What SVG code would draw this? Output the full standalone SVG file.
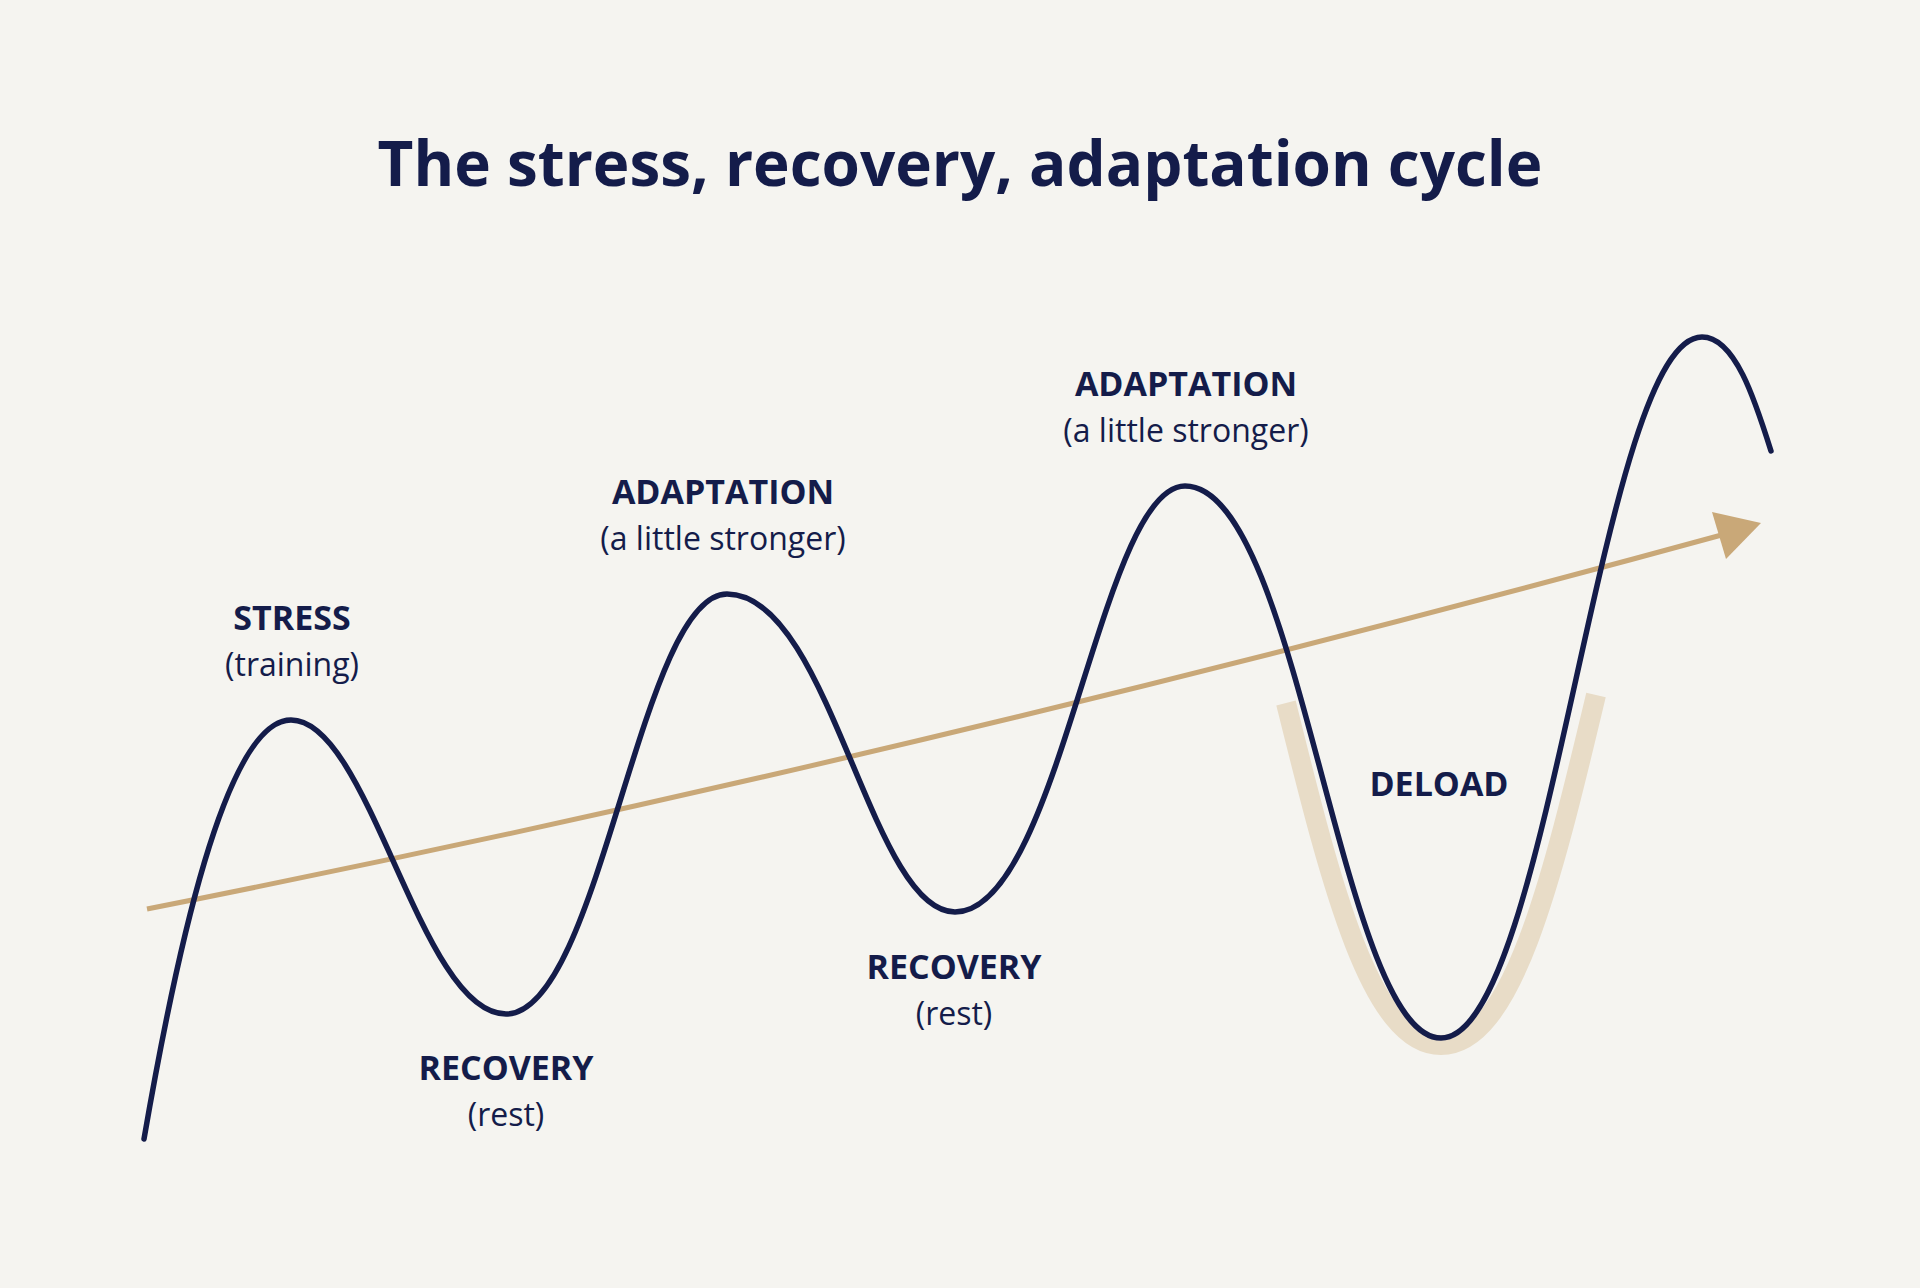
<svg xmlns="http://www.w3.org/2000/svg" width="1920" height="1288" viewBox="0 0 1920 1288">
<style>
.t{font-family:"Open Sans","Liberation Sans",sans-serif;fill:#141c4a;text-anchor:middle}
.b{font-weight:bold;font-size:34px}
.s{font-size:32px}
</style>
<rect width="1920" height="1288" fill="#f5f4f0"/>
<text class="t" x="960" y="186" font-size="62" font-weight="bold">The stress, recovery, adaptation cycle</text>
<g id="deload-band">
<path d="M1286,703 C1330,880 1370,1045 1441,1045 C1512,1045 1552,880 1596,695" fill="none" stroke="#e8dcc7" stroke-width="20"/>
</g>
<g id="connectors">
<path id="trend" d="M147,909 Q900,760 1740,530" fill="none" stroke="#c9a878" stroke-width="5"/>
<path d="M1761,523 L1712,512 L1726,559 Z" fill="#c9a878"/>
</g>
<g id="wave">
<path d="M144,1139 C175,960 225,720 291,720 C370,720 420,1014 506,1014 C600,1014 640,594 727,594 C830,594 870,912 955,912 C1060,912 1100,486 1185,486 C1300,486 1340,1038 1441,1038 C1550,1038 1600,337 1702,337 C1735,337 1755,400 1771,451" fill="none" stroke="#141c4a" stroke-width="5.5" stroke-linecap="round"/>
</g>
<g id="stress"><text class="t b" x="292" y="630">STRESS</text><text class="t s" x="292" y="676">(training)</text></g>
<g id="recovery1"><text class="t b" x="506" y="1080">RECOVERY</text><text class="t s" x="506" y="1126">(rest)</text></g>
<g id="adaptation1"><text class="t b" x="723" y="504">ADAPTATION</text><text class="t s" x="723" y="550">(a little stronger)</text></g>
<g id="recovery2"><text class="t b" x="954" y="979">RECOVERY</text><text class="t s" x="954" y="1025">(rest)</text></g>
<g id="adaptation2"><text class="t b" x="1186" y="396">ADAPTATION</text><text class="t s" x="1186" y="442">(a little stronger)</text></g>
<g id="deload"><text class="t b" x="1439" y="796">DELOAD</text></g>
</svg>
